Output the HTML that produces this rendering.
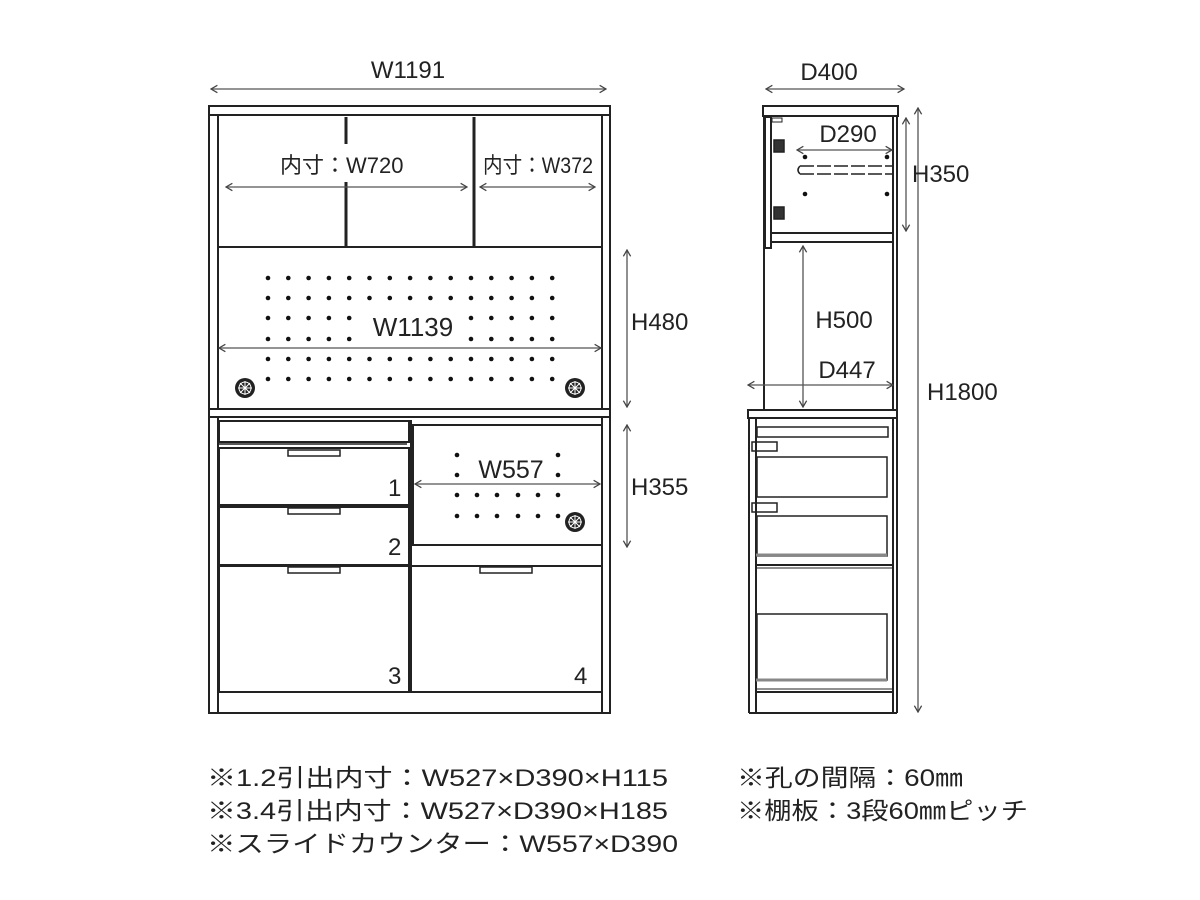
<!DOCTYPE html>
<html><head><meta charset="utf-8"><style>
html,body{margin:0;padding:0;background:#fff;}
svg{display:block}
text{font-family:"Liberation Sans","Noto Sans CJK JP",sans-serif;fill:#222;}
</style></head><body>
<svg width="1200" height="900" viewBox="0 0 1200 900" xmlns="http://www.w3.org/2000/svg">
<defs>
<marker id="a" viewBox="0 0 10 10" refX="9" refY="5" markerWidth="7" markerHeight="7" orient="auto-start-reverse"><path d="M2,1 L9,5 L2,9" fill="none" stroke="#444" stroke-width="1.4"/></marker>
<g id="grom"><circle r="10" fill="#222"/><circle r="6" fill="none" stroke="#fff" stroke-width="1"/><path d="M-7,0H7M0,-7V7M-5,-5L5,5M-5,5L5,-5" stroke="#fff" stroke-width="1"/></g>
<g id="row" fill="#111">
<circle cx="268" cy="0" r="2.3"/><circle cx="288.3" cy="0" r="2.3"/><circle cx="308.6" cy="0" r="2.3"/><circle cx="328.9" cy="0" r="2.3"/><circle cx="349.2" cy="0" r="2.3"/><circle cx="369.5" cy="0" r="2.3"/><circle cx="389.8" cy="0" r="2.3"/><circle cx="410.1" cy="0" r="2.3"/><circle cx="430.4" cy="0" r="2.3"/><circle cx="450.7" cy="0" r="2.3"/><circle cx="471" cy="0" r="2.3"/><circle cx="491.3" cy="0" r="2.3"/><circle cx="511.6" cy="0" r="2.3"/><circle cx="531.9" cy="0" r="2.3"/><circle cx="552.2" cy="0" r="2.3"/>
</g>
</defs>
<g fill="none" stroke="#222" stroke-width="2">
<rect x="209" y="106" width="401" height="9"/>
<rect x="209" y="115" width="401" height="294"/>
<line x1="218" y1="115" x2="218" y2="409"/>
<line x1="602" y1="115" x2="602" y2="409"/>
<line x1="218" y1="247" x2="602" y2="247"/>
<line x1="346" y1="117" x2="346" y2="144" stroke-width="3"/>
<line x1="346" y1="182" x2="346" y2="247" stroke-width="3"/>
<line x1="474" y1="117" x2="474" y2="247" stroke-width="3"/>
<rect x="209" y="409" width="401" height="8"/>
<rect x="209" y="417" width="401" height="296"/>
<line x1="218" y1="417" x2="218" y2="713"/>
<line x1="602" y1="417" x2="602" y2="713"/>
<rect x="219" y="421" width="190" height="21"/>
<line x1="219" y1="444" x2="407" y2="444" stroke-width="1.5"/>
<rect x="219" y="448" width="190" height="57"/>
<rect x="219" y="507" width="190" height="58"/>
<rect x="219" y="566" width="190" height="126"/>
<rect x="411" y="566" width="191" height="126"/>
<line x1="411" y1="420" x2="411" y2="566"/>
<rect x="413" y="425" width="189" height="120"/>
<line x1="219" y1="692" x2="602" y2="692"/>
<g stroke-width="1.5">
<rect x="288" y="450" width="52" height="6"/>
<rect x="288" y="508" width="52" height="6"/>
<rect x="288" y="567" width="52" height="6"/>
<rect x="480" y="567" width="52" height="6"/>
</g>
<rect x="763" y="106" width="135" height="10"/>
<line x1="764" y1="116" x2="764" y2="409"/>
<line x1="893" y1="116" x2="893" y2="409"/>
<line x1="897" y1="116" x2="897" y2="409"/>
<rect x="765" y="117" width="6" height="131"/>
<line x1="771" y1="233" x2="893" y2="233"/>
<line x1="771" y1="242" x2="893" y2="242"/>
<rect x="772" y="118" width="10" height="4" stroke-width="1"/>
<rect x="774" y="140" width="10" height="12" fill="#333" stroke-width="1.5"/>
<rect x="774" y="207" width="10" height="12" fill="#333" stroke-width="1.5"/>
<path d="M800,166 H893 M800,174 H893 M800,166 Q796,170 800,174" stroke-width="1.5" stroke-dasharray="14 3"/>
<rect x="748" y="410" width="149" height="8"/>
<line x1="749" y1="418" x2="749" y2="713"/>
<line x1="756" y1="418" x2="756" y2="713"/>
<line x1="893" y1="418" x2="893" y2="713"/>
<line x1="897" y1="418" x2="897" y2="713"/>
<line x1="749" y1="713" x2="897" y2="713"/>
<line x1="756" y1="692" x2="893" y2="692"/>
<line x1="756" y1="689" x2="893" y2="689" stroke-width="1"/>
<rect x="757" y="427" width="131" height="10" stroke-width="1.5"/>
<rect x="752" y="442" width="25" height="9" stroke-width="1.5"/>
<rect x="752" y="503" width="25" height="9" stroke-width="1.5"/>
<rect x="757" y="457" width="130" height="40" stroke-width="1.5"/>
<rect x="757" y="516" width="130" height="40" stroke-width="1.5"/>
<line x1="756" y1="565" x2="893" y2="565"/>
<line x1="756" y1="568" x2="893" y2="568" stroke-width="1"/>
<rect x="757" y="614" width="130" height="66" stroke-width="1.5"/>
<line x1="756" y1="555" x2="887" y2="555" stroke-width="3" stroke="#888"/>
<line x1="756" y1="680" x2="887" y2="680" stroke-width="3" stroke="#888"/>
</g>
<use href="#row" y="278"/><use href="#row" y="298"/><use href="#row" y="318"/><use href="#row" y="339"/><use href="#row" y="359"/><use href="#row" y="379"/>
<g fill="#111">
<circle cx="457" cy="455" r="2.3"/><circle cx="558" cy="455" r="2.3"/>
<circle cx="457" cy="475" r="2.3"/><circle cx="558" cy="475" r="2.3"/>
<circle cx="457" cy="495" r="2.3"/><circle cx="477" cy="495" r="2.3"/><circle cx="497" cy="495" r="2.3"/><circle cx="518" cy="495" r="2.3"/><circle cx="538" cy="495" r="2.3"/><circle cx="558" cy="495" r="2.3"/>
<circle cx="457" cy="516" r="2.3"/><circle cx="477" cy="516" r="2.3"/><circle cx="497" cy="516" r="2.3"/><circle cx="518" cy="516" r="2.3"/><circle cx="538" cy="516" r="2.3"/><circle cx="558" cy="516" r="2.3"/>
<circle cx="805" cy="157" r="2.3"/><circle cx="887" cy="157" r="2.3"/><circle cx="805" cy="194" r="2.3"/><circle cx="887" cy="194" r="2.3"/>
</g>
<rect x="364" y="312" width="100" height="30" fill="#fff"/>
<use href="#grom" x="245" y="388"/><use href="#grom" x="575" y="388"/><use href="#grom" x="575" y="522"/>
<g stroke="#555" stroke-width="1.3" fill="none" marker-start="url(#a)" marker-end="url(#a)">
<line x1="211" y1="89" x2="606" y2="89"/>
<line x1="226" y1="187" x2="467" y2="187"/>
<line x1="480" y1="187" x2="595" y2="187"/>
<line x1="219" y1="348" x2="601" y2="348"/>
<line x1="415" y1="484" x2="600" y2="484"/>
<line x1="627" y1="250" x2="627" y2="407"/>
<line x1="627" y1="425" x2="627" y2="547"/>
<line x1="766" y1="89" x2="904" y2="89"/>
<line x1="797" y1="150" x2="892" y2="150"/>
<line x1="906" y1="118" x2="906" y2="231"/>
<line x1="918" y1="108" x2="918" y2="712"/>
<line x1="803" y1="246" x2="803" y2="407"/>
<line x1="748" y1="385" x2="893" y2="385"/>
</g>
<g font-size="24">
<text x="408" y="78" text-anchor="middle">W1191</text>
<text x="413" y="336" text-anchor="middle" font-size="26">W1139</text>
<text x="280" y="173" font-size="22">内寸：W720</text>
<text x="483" y="173" font-size="22" textLength="110" lengthAdjust="spacingAndGlyphs">内寸：W372</text>
<text x="511" y="478" text-anchor="middle" font-size="25">W557</text>
<text x="631" y="330">H480</text>
<text x="631" y="495">H355</text>
<text x="829" y="80" text-anchor="middle">D400</text>
<text x="848" y="142" text-anchor="middle">D290</text>
<text x="912" y="182">H350</text>
<text x="844" y="328" text-anchor="middle">H500</text>
<text x="847" y="378" text-anchor="middle">D447</text>
<text x="927" y="400">H1800</text>
<text x="388" y="496">1</text>
<text x="388" y="555">2</text>
<text x="388" y="684">3</text>
<text x="574" y="684">4</text>
</g>
<g font-size="24">
<text x="207" y="786" textLength="461" lengthAdjust="spacingAndGlyphs">※1.2引出内寸：W527×D390×H115</text>
<text x="207" y="819" textLength="461" lengthAdjust="spacingAndGlyphs">※3.4引出内寸：W527×D390×H185</text>
<text x="207" y="852" textLength="471" lengthAdjust="spacingAndGlyphs">※スライドカウンター：W557×D390</text>
<text x="737" y="786" textLength="226" lengthAdjust="spacingAndGlyphs">※孔の間隔：60㎜</text>
<text x="737" y="819" textLength="291" lengthAdjust="spacingAndGlyphs">※棚板：3段60㎜ピッチ</text>
</g>
</svg>
</body></html>
